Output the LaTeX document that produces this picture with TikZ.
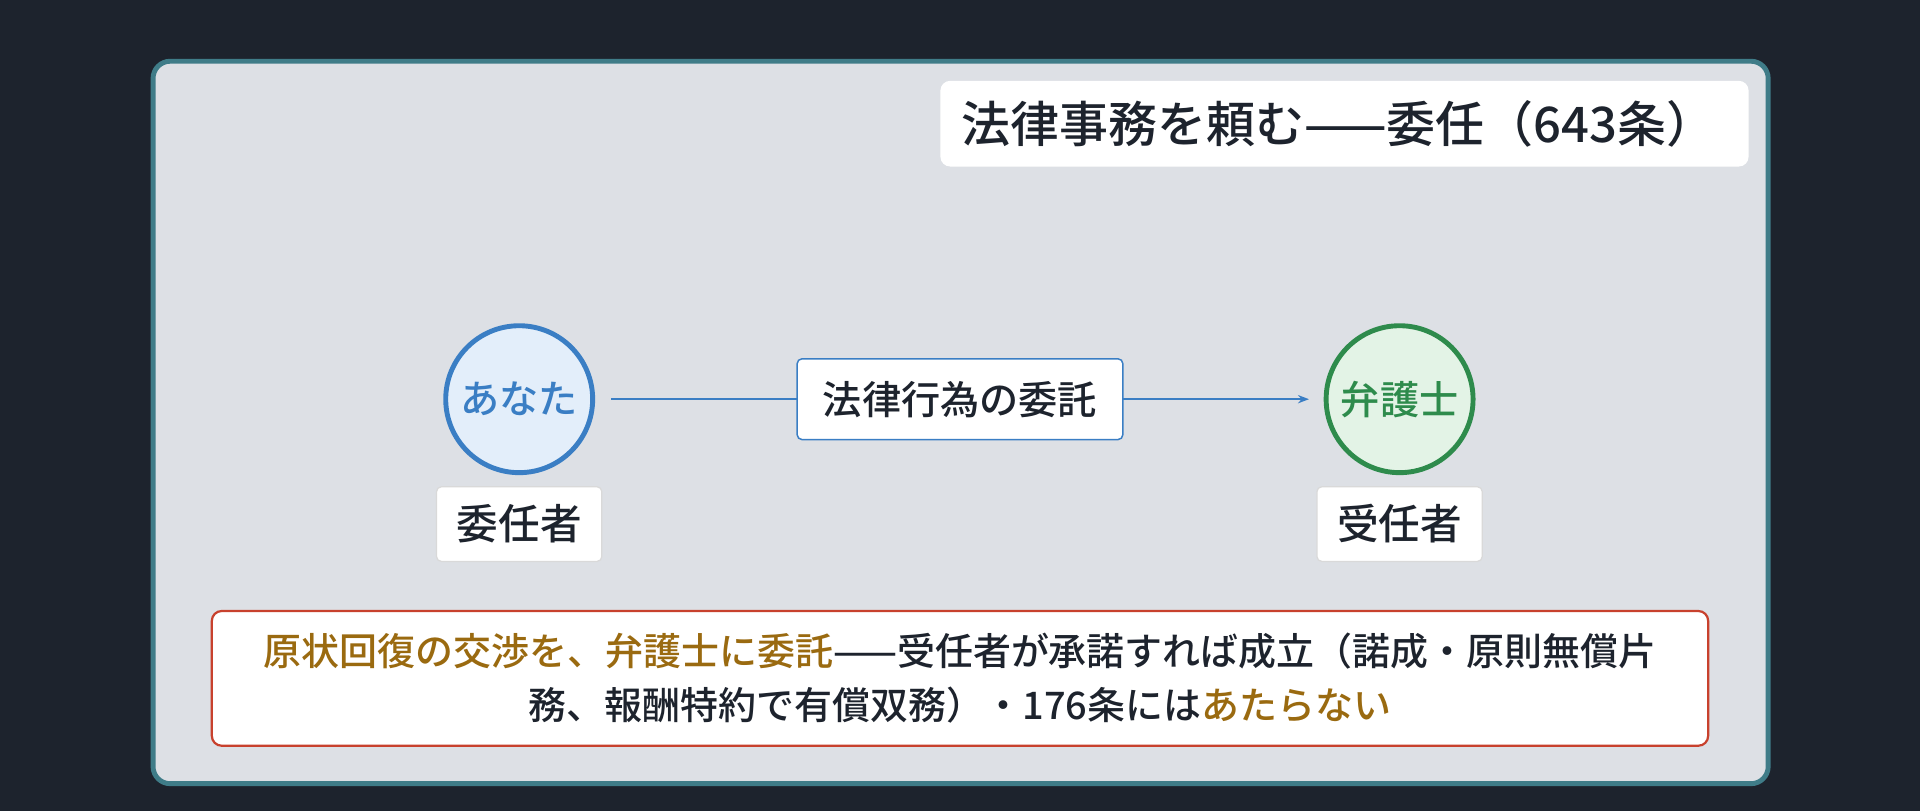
\documentclass[tikz,border=0pt]{standalone}
\usepackage{fontspec}
\setmainfont{Noto Sans CJK JP}[UprightFont=* Medium]
\usetikzlibrary{arrows.meta}
\definecolor{bgdark}{HTML}{1D232D}
\definecolor{panel}{HTML}{DDE0E5}
\definecolor{teal}{HTML}{3F7C88}
\definecolor{blu}{HTML}{3A7EC4}
\definecolor{blufill}{HTML}{E3EEFA}
\definecolor{grn}{HTML}{2E8B4C}
\definecolor{grnfill}{HTML}{E3F3E6}
\definecolor{redb}{HTML}{C8412D}
\definecolor{gold}{HTML}{9A6A10}
\definecolor{txt}{HTML}{1D232D}
\begin{document}
\begin{tikzpicture}[x=1pt,y=-1pt,
  circ/.style={circle,line width=4pt,minimum size=120pt,inner sep=0pt,font=\fontsize{32}{34}\selectfont},
  lbl/.style={draw=gray!30,fill=white,rounded corners=4pt,line width=1pt,minimum width=135pt,minimum height=61pt,font=\fontsize{34}{36}\selectfont,text=txt}]
\useasboundingbox (0,0) rectangle (1568,662);
\fill[bgdark] (0,0) rectangle (1568,662);
\draw[teal,line width=4pt,fill=panel,rounded corners=14pt] (125,50) rectangle (1444,640);
\node[fill=white,rounded corners=8pt,minimum width=660pt,minimum height=70pt,text=txt,font=\fontsize{40}{42}\selectfont,text width=626pt,align=left] (title) at (1098,101) {法律事務を頼む——委任（643条）};
\node[circ,draw=blu,fill=blufill,text=blu] (you) at (424,326) {あなた};
\node[circ,draw=grn,fill=grnfill,text=grn] (law) at (1143,326) {弁護士};
\draw[blu,line width=1.8pt,-{Stealth[length=9pt]}] (you.east)++(13,0) coordinate (s) -- ([xshift=-12pt]law.west);
\node[draw=blu,fill=white,rounded corners=4pt,line width=1.2pt,minimum width=266pt,minimum height=66pt,text=txt,font=\fontsize{32}{34}\selectfont] (act) at (784,326) {法律行為の委託};
\node[lbl] (l1) at (424,428) {委任者};
\node[lbl] (l2) at (1143,428) {受任者};
\node[draw=redb,fill=white,rounded corners=8pt,line width=1.8pt,minimum width=1222pt,minimum height=110pt,text=txt,align=center,font=\fontsize{31}{44}\selectfont] (note) at (784,554)
 {\textcolor{gold}{原状回復の交渉を、弁護士に委託}——受任者が承諾すれば成立（諾成・原則無償片\\務、報酬特約で有償双務）・176条には\textcolor{gold}{あたらない}};
\end{tikzpicture}
\end{document}
